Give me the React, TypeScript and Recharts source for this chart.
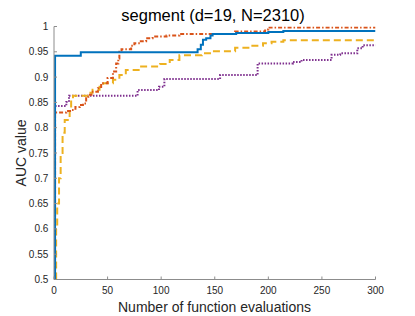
import { LineChart, Line, XAxis, YAxis } from "recharts";

const FONT = "'Liberation Sans', Arial, sans-serif";

// best-so-far AUC per number of evaluations
const blueX = [1, 1, 25, 134, 137, 139, 142, 146, 148, 170, 200, 214, 300];
const blueY = [0.5, 0.942, 0.949, 0.955, 0.964, 0.974, 0.977, 0.982, 0.985, 0.987, 0.989, 0.991, 0.991];

const orangeX = [1, 1, 11.5, 16, 20, 24, 27, 30, 32, 35, 41, 44, 50, 55, 58, 60, 61, 63, 72, 75, 81, 86, 92, 105, 117, 169, 197, 200, 300];
const orangeY = [0.5, 0.83, 0.833, 0.835, 0.841, 0.845, 0.848, 0.858, 0.865, 0.871, 0.878, 0.888, 0.898, 0.911, 0.927, 0.937, 0.95, 0.955, 0.962, 0.967, 0.971, 0.977, 0.98, 0.982, 0.985, 0.99, 0.994, 0.998, 0.998];

const yellowX = [2, 2, 3, 4.7, 6.2, 8, 10, 14.6, 16, 17.7, 33, 36, 42.5, 46, 55, 61, 67, 80, 99, 108, 117, 138, 148, 169, 183, 195, 203, 214, 300];
const yellowY = [0.5, 0.6, 0.65, 0.7, 0.75, 0.79, 0.815, 0.839, 0.855, 0.863, 0.869, 0.875, 0.881, 0.888, 0.895, 0.904, 0.914, 0.921, 0.926, 0.934, 0.943, 0.947, 0.951, 0.958, 0.962, 0.967, 0.97, 0.973, 0.973];

const purpleX = [0.6, 0.6, 11.5, 14, 78, 98, 103, 155, 190, 223, 231, 259, 267, 283, 288, 300];
const purpleY = [0.5, 0.843, 0.851, 0.863, 0.8745, 0.881, 0.896, 0.904, 0.927, 0.93, 0.934, 0.944, 0.947, 0.957, 0.963, 0.963];

const xTicks = [0, 50, 100, 150, 200, 250, 300];
const yTicks = [0.5, 0.55, 0.6, 0.65, 0.7, 0.75, 0.8, 0.85, 0.9, 0.95, 1];

const toRows = (xs: number[], ys: number[]) => xs.map((x, i) => ({ x, y: ys[i] }));

const axisColor = "#8c8c8c";
const tickStyle = { fontSize: 10, fill: "#262626", fontFamily: FONT };

export default function App() {
  return (
    <div style={{ position: "absolute", left: 0, top: 0, width: 415, height: 316, background: "#fff" }}>
      <LineChart
        width={415}
        height={316}
        margin={{ top: 26.5, right: 39.5, bottom: 0, left: 0 }}
      >
        <XAxis
          xAxisId="b"
          type="number"
          dataKey="x"
          domain={[0, 300]}
          ticks={xTicks}
          allowDataOverflow
          height={36.5}
          tickSize={-3}
          tickMargin={10.5}
          stroke={axisColor}
          tick={tickStyle}
        />
        <XAxis
          xAxisId="t"
          orientation="top"
          type="number"
          dataKey="x"
          domain={[0, 300]}
          ticks={xTicks}
          allowDataOverflow
          height={0}
          tickSize={-3}
          tick={false}
          stroke={axisColor}
        />
        <YAxis
          yAxisId="l"
          type="number"
          domain={[0.5, 1]}
          ticks={yTicks}
          allowDataOverflow
          width={54}
          tickSize={-3}
          tickMargin={8.7}
          stroke={axisColor}
          tick={tickStyle}
        />
        <YAxis
          yAxisId="r"
          orientation="right"
          type="number"
          domain={[0.5, 1]}
          ticks={yTicks}
          allowDataOverflow
          width={0}
          tickSize={-3}
          tick={false}
          stroke={axisColor}
        />
        <Line
          xAxisId="b"
          yAxisId="l"
          data={toRows(purpleX, purpleY)}
          dataKey="y"
          type="stepAfter"
          stroke="#7E2F8E"
          strokeWidth={2}
          strokeDasharray="1.5 1.5"
          dot={false}
          isAnimationActive={false}
        />
        <Line
          xAxisId="b"
          yAxisId="l"
          data={toRows(yellowX, yellowY)}
          dataKey="y"
          type="stepAfter"
          stroke="#EDB120"
          strokeWidth={2}
          strokeDasharray="7 4"
          dot={false}
          isAnimationActive={false}
        />
        <Line
          xAxisId="b"
          yAxisId="l"
          data={toRows(orangeX, orangeY)}
          dataKey="y"
          type="stepAfter"
          stroke="#D95319"
          strokeWidth={2}
          strokeDasharray="4 2 1.5 2"
          dot={false}
          isAnimationActive={false}
        />
        <Line
          xAxisId="b"
          yAxisId="l"
          data={toRows(blueX, blueY)}
          dataKey="y"
          type="stepAfter"
          stroke="#0072BD"
          strokeWidth={2}
          dot={false}
          isAnimationActive={false}
        />
      </LineChart>
      <div
        style={{
          position: "absolute",
          left: 213,
          top: 15,
          transform: "translate(-50%, -50%)",
          whiteSpace: "nowrap",
          fontFamily: FONT,
          fontSize: 16.5,
          lineHeight: 1,
          color: "#000",
        }}
      >
        segment (d=19, N=2310)
      </div>
      <div
        style={{
          position: "absolute",
          left: 214.5,
          top: 306.5,
          transform: "translate(-50%, -50%)",
          whiteSpace: "nowrap",
          fontFamily: FONT,
          fontSize: 14,
          lineHeight: 1,
          color: "#262626",
        }}
      >
        Number of function evaluations
      </div>
      <div
        style={{
          position: "absolute",
          left: 21,
          top: 153,
          transform: "translate(-50%, -50%) rotate(-90deg)",
          whiteSpace: "nowrap",
          fontFamily: FONT,
          fontSize: 14,
          lineHeight: 1,
          color: "#262626",
        }}
      >
        AUC value
      </div>
    </div>
  );
}
